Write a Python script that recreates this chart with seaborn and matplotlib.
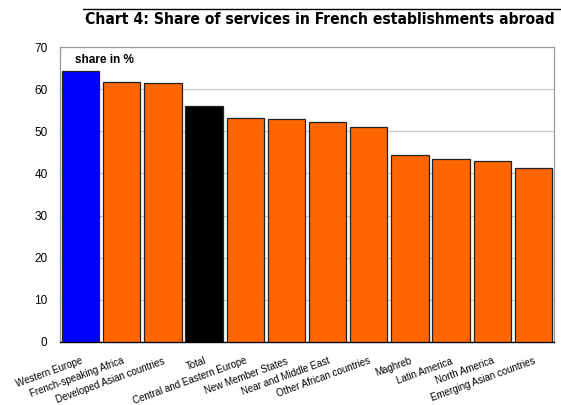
import matplotlib
matplotlib.use("Agg")
import matplotlib.pyplot as plt
from matplotlib.lines import Line2D
import seaborn as sns
import pandas as pd

regions = [
    "Western Europe", "French-speaking Africa", "Developed Asian countries",
    "Total", "Central and Eastern Europe", "New Member States",
    "Near and Middle East", "Other African countries", "Maghreb",
    "Latin America", "North America", "Emerging Asian countries",
]
shares = [64.3, 61.8, 61.4, 56.0, 53.2, 52.8, 52.1, 51.1, 44.3, 43.5, 42.9, 41.2]
bar_colors = ["#0000FF", "#FF6600", "#FF6600", "#000000", "#FF6600", "#FF6600",
              "#FF6600", "#FF6600", "#FF6600", "#FF6600", "#FF6600", "#FF6600"]
y_ticks = [0, 10, 20, 30, 40, 50, 60, 70]

sns.set_theme(style="white")
plt.rcParams["font.family"] = ["Liberation Sans", "DejaVu Sans"]
plt.rcParams["text.color"] = "black"
plt.rcParams["xtick.color"] = "black"
plt.rcParams["ytick.color"] = "black"

df = pd.DataFrame({"region": regions, "share": shares})

fig = plt.figure(figsize=(5.61, 4.05), dpi=100)
ax = fig.add_axes([60 / 561, 1 - 342 / 405, (554 - 60) / 561, (342 - 47) / 405])

sns.barplot(data=df, x="region", y="share", hue="region", palette=bar_colors,
            order=regions, hue_order=regions, legend=False, width=0.91,
            edgecolor="#222222", linewidth=0.9, saturation=1, ax=ax, zorder=3)

ax.set_ylim(0, 70)
ax.set_xlim(-0.5, len(regions) - 0.5)
ax.set_yticks(y_ticks)
ax.set_yticklabels([str(t) for t in y_ticks], fontsize=8.5)
ax.yaxis.grid(True, color="#c8c8c8", linewidth=0.8, zorder=0)
ax.set_axisbelow(True)
ax.tick_params(axis="y", length=0, pad=9)
ax.tick_params(axis="x", length=0, pad=10)
ax.set_xlabel("")
ax.set_ylabel("")

ax.set_xticks(range(len(regions)))
ax.set_xticklabels(regions, rotation=20, ha="right", va="top",
                   rotation_mode="anchor", fontsize=7)

for side in ("top", "right", "left"):
    ax.spines[side].set_color("#999999")
    ax.spines[side].set_linewidth(0.9)
ax.spines["bottom"].set_color("black")
ax.spines["bottom"].set_linewidth(1.0)

ax.text(0.031, 0.955, "share in %", transform=ax.transAxes, fontsize=8.5,
        fontweight="bold", ha="left", va="center")

# Title in a narrow bold face, sized so it spans the ruled line above it
title_left, title_right = 84, 555
title = fig.text(title_right / 561, 1 - 19 / 405,
                 "Chart 4: Share of services in French establishments abroad",
                 family=["Liberation Sans Narrow", "DejaVu Sans"],
                 fontweight="bold", fontstretch="condensed",
                 fontsize=12.5, ha="right", va="center")
renderer = fig.canvas.get_renderer()
width_px = title.get_window_extent(renderer).width
target = title_right - title_left
if width_px > target:
    title.set_fontsize(12.5 * target / width_px)

fig.add_artist(Line2D([83 / 561, 1.0], [1 - 9 / 405, 1 - 9 / 405],
                      transform=fig.transFigure, color="black", linewidth=1.0))

fig.savefig("out.png", dpi=100, facecolor="white")
